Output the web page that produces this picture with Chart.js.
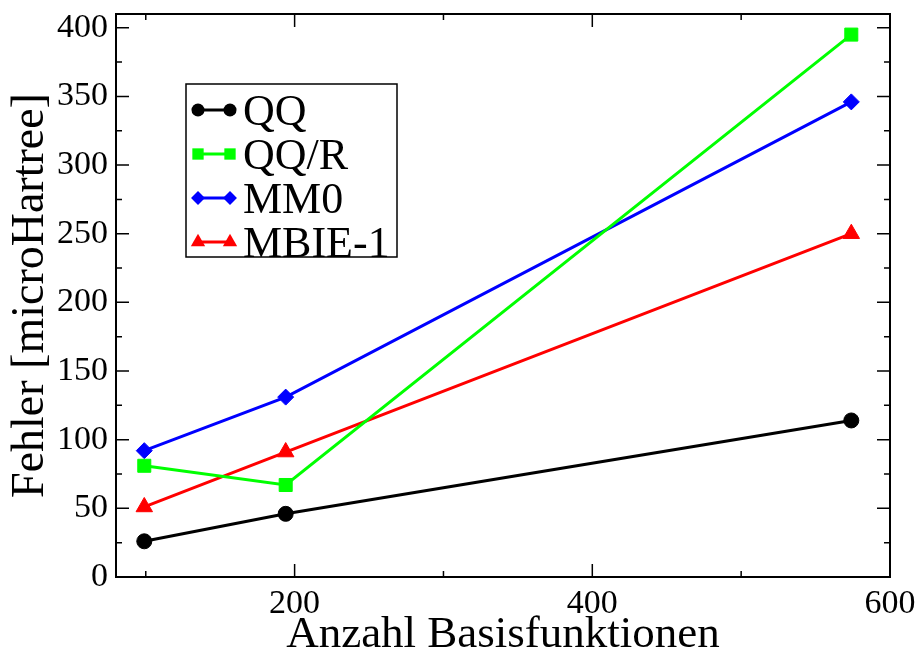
<!DOCTYPE html>
<html>
<head>
<meta charset="utf-8">
<script src="https://cdn.jsdelivr.net/npm/chart.js@4.4.0/dist/chart.umd.min.js"></script>
<style>
html,body{margin:0;padding:0;background:#fff;}
#wrap{width:918px;height:650px;position:relative;}
canvas{display:block;}
</style>
</head>
<body>
<div id="wrap"><canvas id="c" width="918" height="650"></canvas></div>
<script>
// ---- data ----
const basisFunctions = [99, 194, 574];
const seriesNames = ['QQ', 'QQ/R', 'MM0', 'MBIE-1'];
const qqValues = [26, 46, 114];
const qqRValues = [81, 67, 395];
const mm0Values = [92, 131, 346];
const mbie1Values = [51, 91, 250];
const xTickValues = [100, 200, 300, 400, 500, 600];
const xTickLabels = [200, 400, 600];
const yTickValues = [0, 25, 50, 75, 100, 125, 150, 175, 200, 225, 250, 275, 300, 325, 350, 375, 400];
const yTickLabels = [0, 50, 100, 150, 200, 250, 300, 350, 400];
const xTitle = 'Anzahl Basisfunktionen';
const yTitle = 'Fehler [microHartree]';

const FONT = '"Liberation Serif", "Times New Roman", Times, serif';

function pts(vals) { return basisFunctions.map((x, i) => ({ x: x, y: vals[i] })); }

function ds(label, vals, color, style, radius) {
  return {
    label: label,
    data: pts(vals),
    borderColor: color,
    backgroundColor: color,
    borderWidth: 3,
    pointStyle: style,
    pointRadius: radius,
    pointBackgroundColor: color,
    pointBorderColor: color,
    pointBorderWidth: 1,
    tension: 0,
    fill: false
  };
}

const datasets = [
  ds(seriesNames[0], qqValues, '#000000', 'circle', 7.5),
  ds(seriesNames[1], qqRValues, '#00ff00', 'rect', 9.2),
  ds(seriesNames[2], mm0Values, '#0000ff', 'rectRot', 8),
  ds(seriesNames[3], mbie1Values, '#ff0000', 'triangle', 9.5)
];

function drawMarker(ctx, style, x, y, r, color) {
  ctx.save();
  ctx.fillStyle = color;
  ctx.beginPath();
  if (style === 'circle') {
    ctx.arc(x, y, r, 0, Math.PI * 2);
  } else if (style === 'rect') {
    const s = Math.SQRT1_2 * r;
    ctx.rect(x - s, y - s, 2 * s, 2 * s);
  } else if (style === 'rectRot') {
    ctx.moveTo(x, y - r); ctx.lineTo(x + r, y); ctx.lineTo(x, y + r); ctx.lineTo(x - r, y);
    ctx.closePath();
  } else if (style === 'triangle') {
    ctx.moveTo(x, y - r);
    ctx.lineTo(x + r * Math.sin(2 * Math.PI / 3), y - r * Math.cos(2 * Math.PI / 3));
    ctx.lineTo(x + r * Math.sin(4 * Math.PI / 3), y - r * Math.cos(4 * Math.PI / 3));
    ctx.closePath();
  }
  ctx.fill();
  ctx.restore();
}

const framePlugin = {
  id: 'frame',
  afterDatasetsDraw(chart) {
    const ctx = chart.ctx;
    const a = chart.chartArea;
    const xs = chart.scales.x, ys = chart.scales.y;
    ctx.save();
    ctx.strokeStyle = '#000';
    ctx.lineWidth = 1.5;
    ctx.beginPath();
    xTickValues.forEach(v => {
      const px = xs.getPixelForValue(v);
      const len = xTickLabels.includes(v) ? 13 : 6;
      ctx.moveTo(px, a.bottom); ctx.lineTo(px, a.bottom - len);
      ctx.moveTo(px, a.top); ctx.lineTo(px, a.top + len);
    });
    yTickValues.forEach(v => {
      const py = ys.getPixelForValue(v);
      const len = yTickLabels.includes(v) ? 13 : 6;
      ctx.moveTo(a.left, py); ctx.lineTo(a.left + len, py);
      ctx.moveTo(a.right, py); ctx.lineTo(a.right - len, py);
    });
    ctx.stroke();
    ctx.lineWidth = 2;
    ctx.strokeRect(a.left, a.top, a.right - a.left, a.bottom - a.top);
    ctx.restore();
  },
  afterDraw(chart) {
    const ctx = chart.ctx;
    const box = { x: 186, y: 84, w: 211, h: 173 };
    ctx.save();
    ctx.fillStyle = '#fff';
    ctx.fillRect(box.x, box.y, box.w, box.h);
    ctx.strokeStyle = '#000';
    ctx.lineWidth = 1.5;
    ctx.strokeRect(box.x, box.y, box.w, box.h);
    const rowY0 = 110, rowStep = 44;
    chart.data.datasets.forEach((d, i) => {
      const y = rowY0 + i * rowStep;
      ctx.strokeStyle = d.borderColor;
      ctx.lineWidth = 3;
      ctx.beginPath();
      ctx.moveTo(198, y); ctx.lineTo(230, y);
      ctx.stroke();
      const r = d.pointRadius * 0.87;
      drawMarker(ctx, d.pointStyle, 198, y, r, d.borderColor);
      drawMarker(ctx, d.pointStyle, 230, y, r, d.borderColor);
      ctx.fillStyle = '#000';
      ctx.font = '44px ' + FONT;
      ctx.textAlign = 'left';
      ctx.textBaseline = 'alphabetic';
      ctx.fillText(d.label, 243, y + 15);
    });
    ctx.restore();
  }
};

function noPad(s) { s.paddingTop = 0; s.paddingBottom = 0; s.paddingLeft = 0; s.paddingRight = 0; }

new Chart(document.getElementById('c'), {
  type: 'line',
  data: { datasets: datasets },
  plugins: [framePlugin],
  options: {
    responsive: false,
    animation: false,
    devicePixelRatio: 1,
    layout: { padding: { top: 14, right: 28, left: 0, bottom: 0 } },
    plugins: { legend: { display: false }, tooltip: { enabled: false } },
    scales: {
      x: {
        type: 'linear',
        min: 80,
        max: 600,
        afterBuildTicks: s => { s.ticks = xTickValues.map(v => ({ value: v })); },
        afterFit: s => { s.height = 73; noPad(s); },
        grid: { display: false, drawTicks: false },
        border: { display: false },
        ticks: {
          padding: 7,
          maxRotation: 0,
          autoSkip: false,
          color: '#000',
          font: { family: FONT, size: 34 },
          callback: v => xTickLabels.includes(v) ? String(v) : ''
        },
        title: {
          display: true,
          text: xTitle,
          color: '#000',
          font: { family: FONT, size: 45, lineHeight: 0.65 },
          padding: { top: 0, bottom: 0 }
        }
      },
      y: {
        type: 'linear',
        min: 0,
        max: 410,
        afterBuildTicks: s => { s.ticks = yTickValues.map(v => ({ value: v })); },
        afterFit: s => { s.width = 116; noPad(s); },
        grid: { display: false, drawTicks: false },
        border: { display: false },
        ticks: {
          padding: 8,
          autoSkip: false,
          color: '#000',
          font: { family: FONT, size: 34 },
          callback: v => yTickLabels.includes(v) ? String(v) : ''
        },
        title: {
          display: true,
          text: yTitle,
          color: '#000',
          font: { family: FONT, size: 46, lineHeight: 1 },
          padding: { top: 8, bottom: 0 }
        }
      }
    }
  }
});
</script>
</body>
</html>
